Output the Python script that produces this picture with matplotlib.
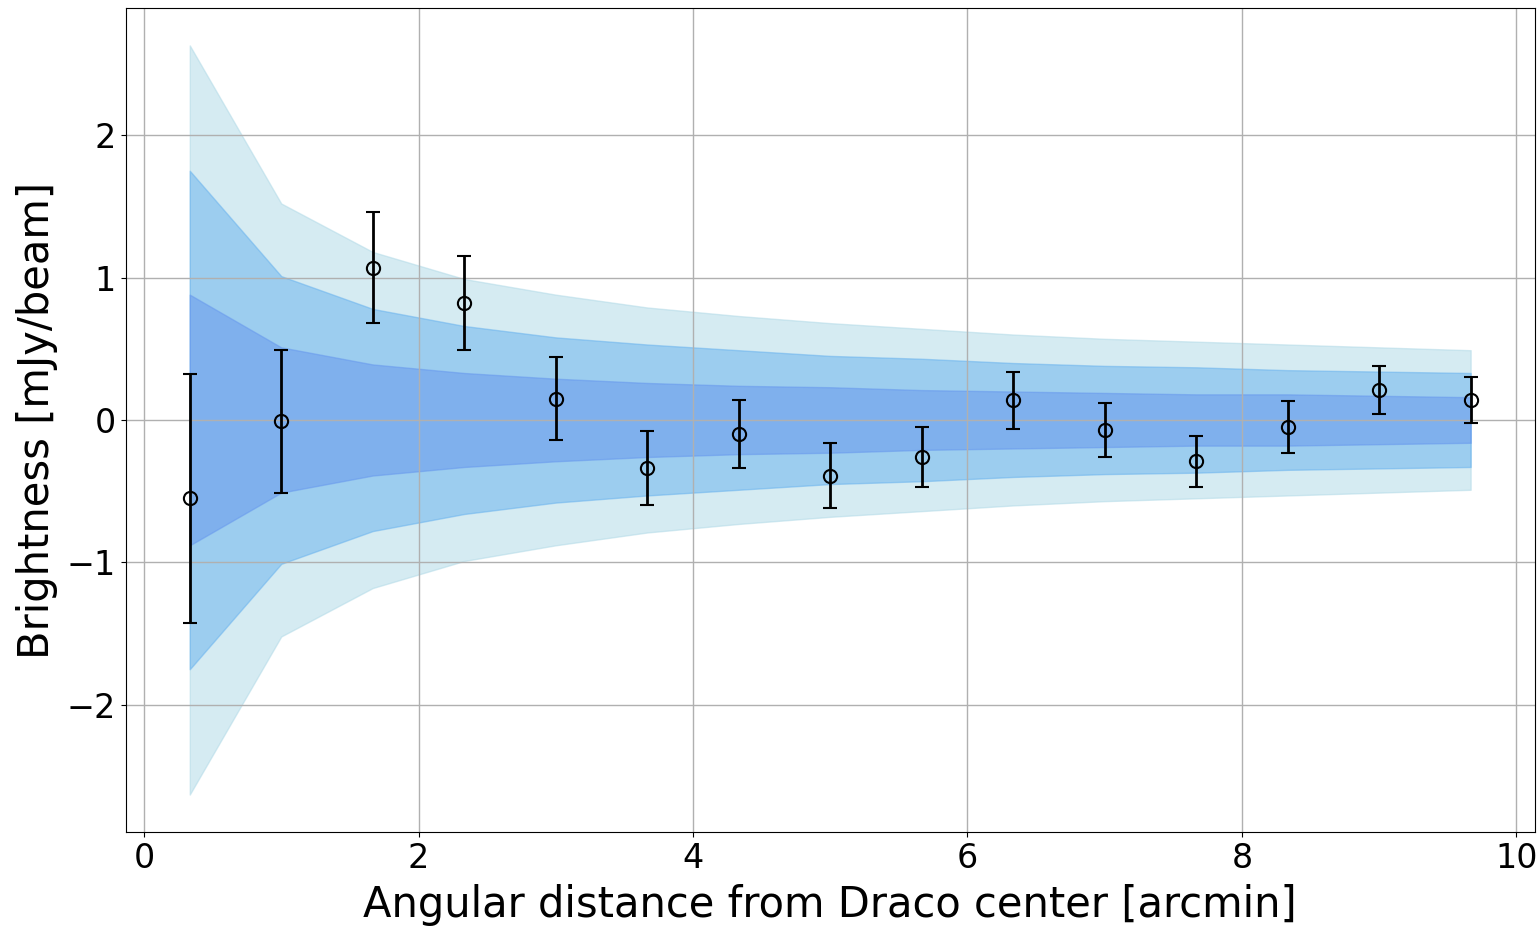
import numpy as np
import matplotlib
matplotlib.use('Agg')
import matplotlib.pyplot as plt

# Radial bins (arcmin)
r = np.array([1/3, 1, 5/3, 7/3, 3, 11/3, 13/3, 5, 17/3, 19/3, 7, 23/3, 25/3, 9, 29/3])

# Measured brightness and error [mJy/beam]
brightness = [-0.55, -0.01, 1.07, 0.82, 0.15, -0.34, -0.10, -0.39,
              -0.26, 0.14, -0.07, -0.29, -0.05, 0.21, 0.14]
err = [0.875, 0.50, 0.39, 0.33, 0.29, 0.26, 0.24, 0.23,
       0.21, 0.20, 0.19, 0.18, 0.18, 0.17, 0.16]

# Noise bands (half-widths)
sig1 = [0.88, 0.51, 0.39, 0.33, 0.29, 0.26, 0.24, 0.23, 0.21, 0.20, 0.19, 0.18, 0.18, 0.17, 0.16]
sig2 = [1.75, 1.01, 0.78, 0.66, 0.58, 0.53, 0.49, 0.45, 0.43, 0.40, 0.38, 0.37, 0.35, 0.34, 0.33]
sig3 = [2.63, 1.52, 1.18, 0.99, 0.88, 0.79, 0.73, 0.68, 0.64, 0.60, 0.57, 0.55, 0.53, 0.51, 0.49]

fig = plt.figure(figsize=(15.39, 9.26), dpi=100)
ax = fig.add_axes([0.0817, 0.1015, 0.9155, 0.8899])

s1, s2, s3 = np.array(sig1), np.array(sig2), np.array(sig3)
ax.fill_between(r, -s3, s3, color='#add8e6', alpha=0.5)
ax.fill_between(r, -s2, s2, color='#64b0ee', alpha=0.5)
ax.fill_between(r, -s1, s1, color='#6495ed', alpha=0.5)

ax.errorbar(r, brightness, yerr=err, fmt='o', mfc='none', mec='black', ms=9.5,
            mew=1.5, ecolor='black', elinewidth=2, capsize=5, capthick=2)

ax.grid(True, color='#b0b0b0', lw=1)
ax.tick_params(labelsize=24)
ax.set_xlabel('Angular distance from Draco center [arcmin]', fontsize=30, labelpad=7)
ax.set_ylabel('Brightness [mJy/beam]', fontsize=30, labelpad=6)

fig.savefig('out.png', dpi=100)
